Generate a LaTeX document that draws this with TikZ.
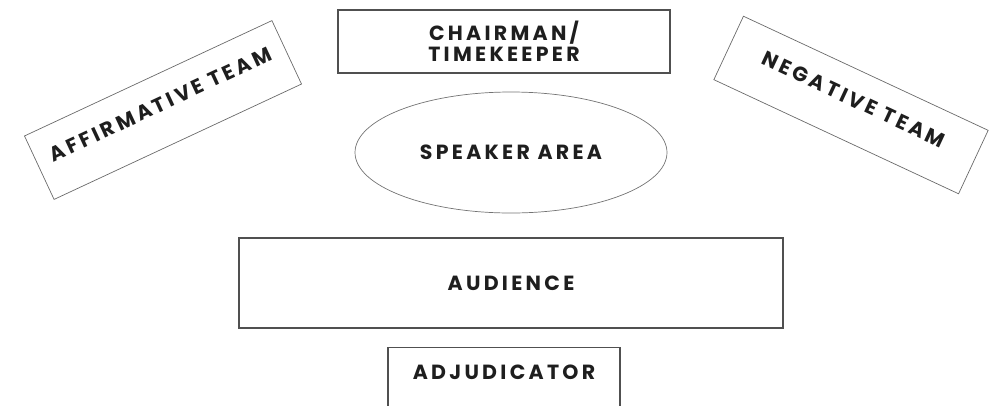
\documentclass[tikz,border=0pt]{standalone}
\usepackage{fontspec}
\setmainfont{Poppins}
\newfontfamily\plaquefont[LetterSpace=16]{Poppins}
\usepackage{tikz}
\usetikzlibrary{positioning, shapes.geometric}
\usepackage{xcolor}
\definecolor{frameline}{RGB}{80, 80, 80}
\definecolor{labeltext}{RGB}{30, 30, 30}

\begin{document}
\begin{tikzpicture}[x=1pt, y=-1pt,
  tag/.style={font=\plaquefont\fontsize{20.5}{21}\selectfont\bfseries, text=labeltext, align=center, inner sep=0pt},
  panel/.style={tag, draw=frameline, line width=1.3pt},
  teambox/.style={tag, draw=frameline!85, line width=0.7pt, text height=15pt, text depth=13pt}]
  \clip (0,0) rectangle (992,405);
  % stage
  \node[panel, minimum width=332pt, minimum height=63pt] (chair) at (504,41.5) {CHAIRMAN/\\TIMEKEEPER};
  \node[tag, ellipse, draw=frameline!80, line width=0.7pt, minimum width=312pt, minimum height=121pt] (speaker) at (511,152.5) {SPEAKER AREA};
  % the two teams
  \node[teambox, rotate=25, minimum width=273pt, minimum height=70pt] (affirm) at (163,110) {AFFIRMATIVE TEAM};
  \node[teambox, rotate=-25, minimum width=270pt, minimum height=70pt] (negate) at (851,105) {NEGATIVE TEAM};
  % floor
  \node[panel, minimum width=544pt, minimum height=90pt] (audience) at (511,283) {AUDIENCE};
  \node[panel, anchor=north, minimum width=232pt, text height=31.5pt, text depth=41.5pt] (adjud) at (504,347) {ADJUDICATOR};
\end{tikzpicture}
\end{document}
